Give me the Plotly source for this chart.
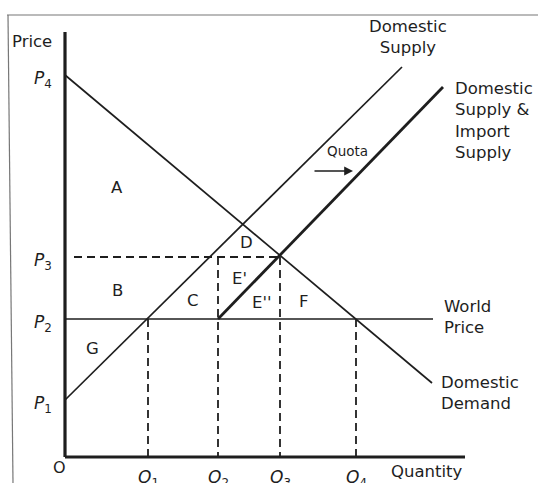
import plotly.graph_objects as go

# ---- data (economic diagram, arbitrary units) ----
P1, P2, P3, P4 = 5.7, 13.8, 20.0, 38.2
Q1, Q2, Q3, Q4 = 8.3, 15.3, 21.5, 29.1
dom_supply_x = [0.0, 33.7]
dom_supply_y = [P1, 39.0]
imp_supply_x = [Q2, 37.8]
imp_supply_y = [P2, 37.0]
demand_x = [0.0, 36.7]
demand_y = [P4, 7.4]
world_x = [0.0, 36.8]
world_y = [P2, P2]
x_axis_end = 40.0
y_axis_end = 42.5

INK = "#1e1e1e"
FONT = "DejaVu Sans"
W, H = 538, 483

fig = go.Figure()

def line(x, y, w, dash=None):
    fig.add_trace(go.Scatter(x=x, y=y, mode="lines",
                             line=dict(color=INK, width=w, dash=dash),
                             hoverinfo="skip", showlegend=False))

DASH = "8px,5px"
# dashed guides
line([0.9, Q3], [P3, P3], 1.8, DASH)
line([Q1, Q1], [P2, 0], 1.8, DASH)
line([Q2, Q2], [P3, 0], 1.8, DASH)
line([Q3, Q3], [P3, 0], 1.8, DASH)
line([Q4, Q4], [P2, 0], 1.8, DASH)

# curves
line(world_x, world_y, 1.6)
line(demand_x, demand_y, 1.7)
line(dom_supply_x, dom_supply_y, 1.7)
line(imp_supply_x, imp_supply_y, 2.8)

# axes
line([0, 0], [0, y_axis_end], 3.2)
line([0, x_axis_end], [0, 0], 3.2)

ann = []
def txt(x, y, s, size=16.5, xanchor="center", yanchor="middle", align="center"):
    ann.append(dict(x=x, y=y, text=s, showarrow=False, xanchor=xanchor,
                    yanchor=yanchor, align=align,
                    font=dict(family=FONT, size=size, color=INK)))

# axis labels
txt(-3.3, 41.6, "Price", 16.5)
txt(-0.6, -1.0, "O", 16)
txt(x_axis_end, -1.4, "Quantity", 16.5, xanchor="right")

for v, lab in [(P4, "4"), (P3, "3"), (P2, "2"), (P1, "1")]:
    txt(-2.2, v - 0.4, f"<i>P</i><sub>{lab}</sub>", 17)
for v, lab in [(Q1, "1"), (Q2, "2"), (Q3, "3"), (Q4, "4")]:
    txt(v, -0.75, f"<i>Q</i><sub>{lab}</sub>", 17, yanchor="top")

# area letters
txt(5.2, 27.0, "A")
txt(5.2, 16.7, "B")
txt(2.7, 10.9, "G")
txt(12.8, 15.7, "C")
txt(18.1, 21.5, "D")
txt(17.4, 17.9, "E'")
txt(19.7, 15.5, "E''")
txt(23.9, 15.6, "F")

# curve labels
txt(34.3, 42.0, "Domestic<br>Supply", 16.5)
txt(38.8, 33.7, "Domestic<br>Supply &amp;<br>Import<br>Supply", 16.5,
    xanchor="left", align="left")
txt(37.7, 14.0, "World<br>Price", 16.5, xanchor="left", align="left")
txt(37.4, 6.4, "Domestic<br>Demand", 16.5, xanchor="left", align="left")
txt(28.2, 30.6, "Quota", 13.5)

# quota arrow
ann.append(dict(x=28.8, y=28.6, ax=-40, ay=0, axref="pixel", ayref="pixel",
                showarrow=True, arrowhead=2, arrowsize=1.1, arrowwidth=1.6,
                arrowcolor=INK, text=""))

# frame (decoration)
shapes = [
    dict(type="line", xref="paper", yref="paper", x0=7/W, x1=1.0,
         y0=1-15/H, y1=1-15/H, line=dict(color="#777", width=1.2)),
    dict(type="line", xref="paper", yref="paper", x0=8/W, x1=13/W,
         y0=1-15/H, y1=0, line=dict(color="#777", width=1.2)),
]

fig.update_layout(
    width=W, height=H, autosize=False,
    margin=dict(l=0, r=0, t=0, b=0),
    paper_bgcolor="white", plot_bgcolor="white",
    xaxis=dict(range=[-6.5, 47.3], visible=False, fixedrange=True),
    yaxis=dict(range=[-2.6, 45.7], visible=False, fixedrange=True),
    annotations=ann, shapes=shapes,
)

fig.write_html(
    "out.html",
    config={"displayModeBar": False, "staticPlot": True},
    post_script="document.body.style.margin='0';document.body.style.overflow='hidden';",
)
